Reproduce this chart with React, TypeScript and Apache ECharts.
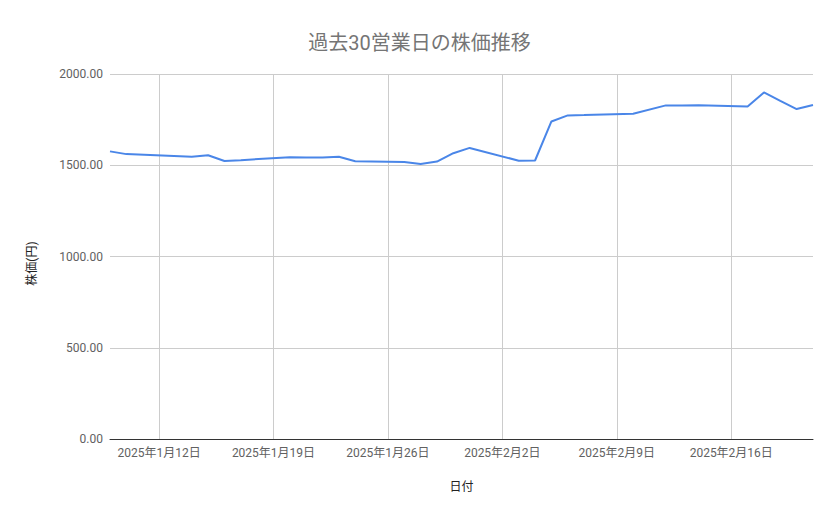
import React, { useEffect, useRef } from "react";
import * as echarts from "echarts";

const TITLE = "過去30営業日の株価推移";
const X_NAME = "日付";
const Y_NAME = "株価(円)";

const dates = [
  "2025-01-09", "2025-01-10", "2025-01-14", "2025-01-15", "2025-01-16", "2025-01-17",
  "2025-01-20", "2025-01-21", "2025-01-22", "2025-01-23", "2025-01-24",
  "2025-01-27", "2025-01-28", "2025-01-29", "2025-01-30", "2025-01-31",
  "2025-02-03", "2025-02-04", "2025-02-05", "2025-02-06", "2025-02-07",
  "2025-02-10", "2025-02-12", "2025-02-13", "2025-02-14",
  "2025-02-17", "2025-02-18", "2025-02-19", "2025-02-20", "2025-02-21",
];
const prices = [
  1576, 1561, 1546, 1555, 1523, 1528,
  1544, 1543, 1543, 1547, 1522,
  1518, 1507, 1520, 1566, 1595,
  1525, 1526, 1740, 1773, 1775,
  1782, 1828, 1827, 1829,
  1822, 1899, 1853, 1808, 1830,
];
const xStart = "2025-01-09";
const xEnd = "2025-02-21";
const weekOrigin = "2025-01-05"; // a Sunday: week ticks fall on Sundays
const yTicks = [0, 500, 1000, 1500, 2000];

const DAY = 86400000;
const WEEK = 7 * DAY;
const toWeeks = (d: string) => (Date.parse(d + "T00:00:00Z") - Date.parse(weekOrigin + "T00:00:00Z")) / WEEK;
const fmtDate = (w: number) => {
  const dt = new Date(Date.parse(weekOrigin + "T00:00:00Z") + Math.round(w * 7) * DAY);
  return `${dt.getUTCFullYear()}年${dt.getUTCMonth() + 1}月${dt.getUTCDate()}日`;
};

export default function App() {
  const ref = useRef<HTMLDivElement>(null);
  useEffect(() => {
    document.body.style.margin = "0";
    const chart = echarts.init(ref.current!, null, { renderer: "svg" });
    const font = "Roboto, 'Noto Sans CJK JP', sans-serif";
    chart.setOption({
      animation: false,
      backgroundColor: "#ffffff",
      textStyle: { fontFamily: font },
      title: {
        text: TITLE,
        left: "center",
        top: 28,
        textStyle: { fontFamily: font, fontSize: 20, fontWeight: "normal", color: "#757575" },
      },
      grid: { left: 110, right: 26, top: 74, bottom: 80, containLabel: false },
      xAxis: {
        type: "value",
        min: toWeeks(xStart),
        max: toWeeks(xEnd),
        minInterval: 1,
        maxInterval: 1,
        name: X_NAME,
        nameLocation: "middle",
        nameGap: 42,
        nameTextStyle: { fontFamily: font, fontSize: 12, color: "#222222" },
        axisLine: { show: true, lineStyle: { color: "#333333", width: 1 } },
        axisTick: { show: false },
        axisLabel: {
          show: true,
          showMinLabel: false,
          showMaxLabel: false,
          margin: 8,
          fontSize: 12,
          color: "#616161",
          fontFamily: font,
          formatter: (v: number) => fmtDate(v),
        },
        splitLine: {
          show: true,
          showMinLine: false,
          showMaxLine: false,
          lineStyle: { color: "#cccccc", width: 1 },
        },
      },
      yAxis: {
        type: "value",
        min: yTicks[0],
        max: yTicks[yTicks.length - 1],
        interval: yTicks[1] - yTicks[0],
        name: Y_NAME,
        nameLocation: "middle",
        nameGap: 72,
        nameTextStyle: { fontFamily: font, fontSize: 12, color: "#222222", padding: [0, 14, 0, 0] },
        axisLine: { show: false },
        axisTick: { show: false },
        axisLabel: {
          margin: 7,
          fontSize: 12,
          color: "#616161",
          fontFamily: font,
          formatter: (v: number) => v.toFixed(2),
        },
        splitLine: { show: true, lineStyle: { color: "#cccccc", width: 1 } },
      },
      series: [
        {
          type: "line",
          data: dates.map((d, i) => [toWeeks(d), prices[i]]),
          showSymbol: false,
          symbol: "none",
          lineStyle: { color: "#4a86e8", width: 2 },
          itemStyle: { color: "#4a86e8" },
        },
      ],
    });
    return () => chart.dispose();
  }, []);
  return <div ref={ref} style={{ width: 839, height: 519 }} />;
}
